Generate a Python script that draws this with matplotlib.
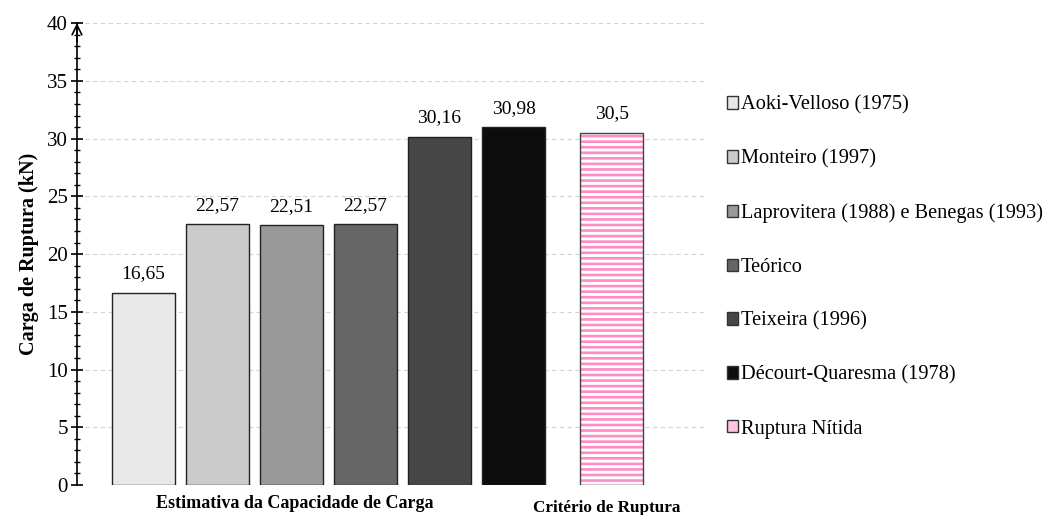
import matplotlib
matplotlib.use("Agg")
import matplotlib.pyplot as plt
from matplotlib.patches import Patch

plt.rcParams['font.family'] = ['Liberation Serif', 'DejaVu Serif']
plt.rcParams['hatch.linewidth'] = 1.9

# Data
methods = ["Aoki-Velloso (1975)", "Monteiro (1997)",
           "Laprovitera (1988) e Benegas (1993)", "Teórico",
           "Teixeira (1996)", "Décourt-Quaresma (1978)"]
method_values = [16.65, 22.57, 22.51, 22.57, 30.16, 30.98]
method_colors = ["#e8e8e8", "#cbcbcb", "#999999", "#666666", "#474747", "#0d0d0d"]
rupture_label = "Ruptura Nítida"
rupture_value = 30.5
group_labels = ["Estimativa da Capacidade de Carga", "Critério de Ruptura"]
y_ticks = [0, 5, 10, 15, 20, 25, 30, 35, 40]

def fmt(v):
    return f"{v:g}".replace(".", ",")

fig = plt.figure(figsize=(10.47, 5.15), dpi=100)
ax = fig.add_axes([0.0735, 0.0583, 0.6, 0.8967])

width = 0.85
xs = list(range(len(methods)))
handles = []
for x, v, c, name in zip(xs, method_values, method_colors, methods):
    ax.bar(x, v, width=width, color=c, edgecolor="#222222", linewidth=1.0, zorder=3)
    ax.text(x, v + 0.9, fmt(v), ha="center", va="bottom", fontsize=14, zorder=4)
    handles.append(Patch(facecolor=c, edgecolor="#333333", linewidth=1.0, label=name))

# Striped bar for the rupture criterion
xr = len(methods) + 0.33
ax.bar(xr, rupture_value, width=width, color="white", edgecolor="#ff8cc6",
       hatch="---", linewidth=0, zorder=3)
ax.bar(xr, rupture_value, width=width, fill=False, edgecolor="#444444",
       linewidth=1.0, zorder=4)
ax.text(xr, rupture_value + 0.9, fmt(rupture_value), ha="center", va="bottom",
        fontsize=14, zorder=4)
handles.append(Patch(facecolor="#ffc4e1", edgecolor="#333333", linewidth=1.0,
                     label=rupture_label))

ax.set_xlim(-0.9, 7.59)
ax.set_ylim(0, 40)
ax.set_yticks(y_ticks)
ax.set_yticks(range(0, 41), minor=True)
ax.tick_params(axis="y", which="major", direction="inout", length=9, width=1.2,
               labelsize=15, pad=2)
ax.tick_params(axis="y", which="minor", direction="inout", length=5, width=1.0)
ax.set_xticks([])

for s in ["top", "right", "bottom"]:
    ax.spines[s].set_visible(False)
ax.spines["left"].set_linewidth(1.2)
ax.grid(axis="y", color="#d4d4d4", linestyle=(0, (4, 3)), linewidth=0.8, zorder=0)
ax.set_axisbelow(True)

# Arrow at the top of the y axis
ax.annotate("", xy=(0, 1.0), xycoords="axes fraction", xytext=(0, 0.96),
            arrowprops=dict(arrowstyle="->,head_length=0.7,head_width=0.35",
                            color="black", lw=1.2, shrinkA=0, shrinkB=0),
            annotation_clip=False)

ax.set_ylabel("Carga de Ruptura (kN)", fontsize=14.5, fontweight="bold", labelpad=6)

ax.text(2.05, -0.9, group_labels[0], ha="center", va="top", fontsize=13,
        fontweight="bold", transform=ax.transData)
ax.text(xr - 0.07, -1.3, group_labels[1], ha="center", va="top", fontsize=12.3,
        fontweight="bold", transform=ax.transData)

leg = ax.legend(handles=handles, loc="upper left", bbox_to_anchor=(1.021, 0.861),
                frameon=False, fontsize=14.7, handlelength=0.55, handleheight=0.55,
                handletextpad=0.15, labelspacing=1.7, borderaxespad=0)

fig.savefig("out.png", dpi=100)
